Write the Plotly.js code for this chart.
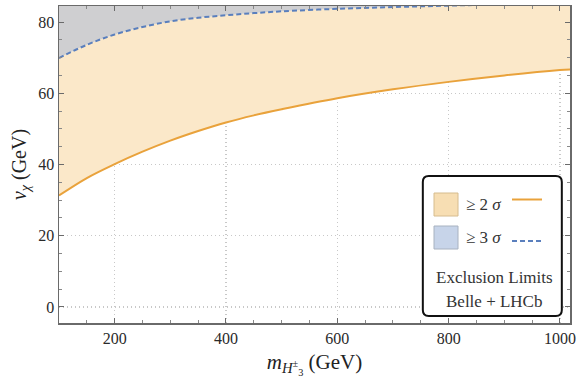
<!DOCTYPE html>
<html><head><meta charset="utf-8">
<script src="https://cdn.plot.ly/plotly-3.0.1.min.js"></script>
<style>body{margin:0;background:#fff}#chart{width:581px;height:383px}</style>
</head><body><div id="chart"></div>
<script>
// mass values m_H (GeV)
const mass = [100, 150, 200, 250, 300, 350, 400, 450, 500, 600, 700, 800, 900, 1000, 1020];
// >= 2 sigma boundary (orange, solid)
const limit2sigma = [31.3, 36.2, 40.1, 43.6, 46.7, 49.4, 51.8, 53.8, 55.5, 58.6, 61.1, 63.2, 65.0, 66.5, 66.7];
// >= 3 sigma boundary (blue, dashed)
const limit3sigma = [69.9, 73.6, 76.5, 78.6, 80.2, 81.2, 81.9, 82.5, 83.0, 83.7, 84.2, 84.6, 85.0, 85.4, 85.5];
const xTicks = [200, 400, 600, 800, 1000];
const yTicks = [0, 20, 40, 60, 80];
const xRange = [100, 1018];
const yRange = [-4.5, 84.5];
const yCeil = mass.map(() => yRange[1] + 10);

const serif = 'Liberation Serif, Times New Roman, serif';
const orange = '#e9a23b', blue = '#5a7fbd';
const dashPat = '5px,3px';

const traces = [
  {x: mass, y: limit2sigma, mode: 'lines', line: {color: orange, width: 2, shape: 'spline'}, hoverinfo: 'skip'},
  {x: mass, y: limit3sigma, mode: 'lines', fill: 'tonexty', fillcolor: '#fbe8c9',
   line: {width: 0, shape: 'spline'}, hoverinfo: 'skip'},
  {x: mass, y: yCeil, mode: 'lines', fill: 'tonexty', fillcolor: '#cfcfd1', line: {width: 0}, hoverinfo: 'skip'},
  {x: mass, y: limit3sigma, mode: 'lines', line: {color: blue, width: 2, dash: dashPat, shape: 'spline'}, hoverinfo: 'skip'}
];

// legend geometry in paper coords
const L = {x0: 0.712, x1: 0.984, y0: 0.022, y1: 0.464, rx: 0.0117, ry: 0.019};
const boxPath = `M ${L.x0+L.rx},${L.y0} L ${L.x1-L.rx},${L.y0} Q ${L.x1},${L.y0} ${L.x1},${L.y0+L.ry} L ${L.x1},${L.y1-L.ry} Q ${L.x1},${L.y1} ${L.x1-L.rx},${L.y1} L ${L.x0+L.rx},${L.y1} Q ${L.x0},${L.y1} ${L.x0},${L.y1-L.ry} L ${L.x0},${L.y0+L.ry} Q ${L.x0},${L.y0} ${L.x0+L.rx},${L.y0} Z`;

const px = v => (v - 59) / 511;      // pixel -> paper x
const py = v => (323 - v) / 317;     // pixel -> paper y

const shapes = [
  {type: 'path', xref: 'paper', yref: 'paper', path: boxPath, fillcolor: 'white', line: {color: '#111', width: 2}},
  {type: 'rect', xref: 'paper', yref: 'paper', x0: px(434), x1: px(458), y0: py(216), y1: py(193), fillcolor: '#f7deb3', line: {color: '#d6bc8e', width: 1}},
  {type: 'rect', xref: 'paper', yref: 'paper', x0: px(434), x1: px(458), y0: py(249), y1: py(226), fillcolor: '#c7d4e9', line: {color: '#a8b2c0', width: 1}},
  {type: 'line', xref: 'paper', yref: 'paper', x0: px(512), x1: px(542), y0: py(199.5), y1: py(199.5), line: {color: orange, width: 2}},
  {type: 'line', xref: 'paper', yref: 'paper', x0: px(512), x1: px(542), y0: py(241), y1: py(241), line: {color: blue, width: 2, dash: dashPat}}
];

const annFont = {family: serif, size: 17, color: '#333'};
const annotations = [
  {xref: 'paper', yref: 'paper', x: px(464), y: py(204), xanchor: 'left', yanchor: 'middle', text: '≥ 2 <i>σ</i>', showarrow: false, font: annFont},
  {xref: 'paper', yref: 'paper', x: px(464), y: py(237), xanchor: 'left', yanchor: 'middle', text: '≥ 3 <i>σ</i>', showarrow: false, font: annFont},
  {xref: 'paper', yref: 'paper', x: px(494), y: py(277), xanchor: 'center', yanchor: 'middle', text: 'Exclusion Limits', showarrow: false, font: annFont},
  {xref: 'paper', yref: 'paper', x: px(494), y: py(301), xanchor: 'center', yanchor: 'middle', text: 'Belle + LHCb', showarrow: false, font: annFont}
];

const axisCommon = {
  showline: true, mirror: 'ticks', linecolor: '#6a6a6a', linewidth: 1.5,
  ticks: 'inside', ticklen: 5, tickcolor: '#6a6a6a', tickwidth: 1,
  showgrid: true, gridcolor: '#c8c8c8', griddash: '1px,3px', gridwidth: 1.2,
  zeroline: false, tickfont: {family: serif, size: 16, color: '#2a2a2a'}
};

const layout = {
  width: 581, height: 383,
  margin: {l: 59, r: 11, t: 6, b: 60},
  paper_bgcolor: 'white', plot_bgcolor: 'white',
  showlegend: false,
  xaxis: Object.assign({}, axisCommon, {
    range: xRange, tickvals: xTicks, ticktext: xTicks.map(String),
    minor: {dtick: 50, tick0: 0, ticks: 'inside', ticklen: 3, tickcolor: '#888', showgrid: false},
    title: {text: '<i>m</i><sub><i>H</i><sup>±</sup><sub>3</sub></sub> (GeV)', font: {family: serif, size: 21, color: '#222'}, standoff: 8}
  }),
  yaxis: Object.assign({}, axisCommon, {
    range: yRange, tickvals: yTicks, ticktext: yTicks.map(String),
    minor: {dtick: 5, tick0: 0, ticks: 'inside', ticklen: 3, tickcolor: '#888', showgrid: false},
    title: {text: '<i>v</i><sub><i>χ</i></sub> (GeV)', font: {family: serif, size: 20, color: '#222'}, standoff: 6}
  }),
  shapes: shapes,
  annotations: annotations
};

Plotly.newPlot('chart', traces, layout, {staticPlot: true, displayModeBar: false});
</script>
</body></html>
